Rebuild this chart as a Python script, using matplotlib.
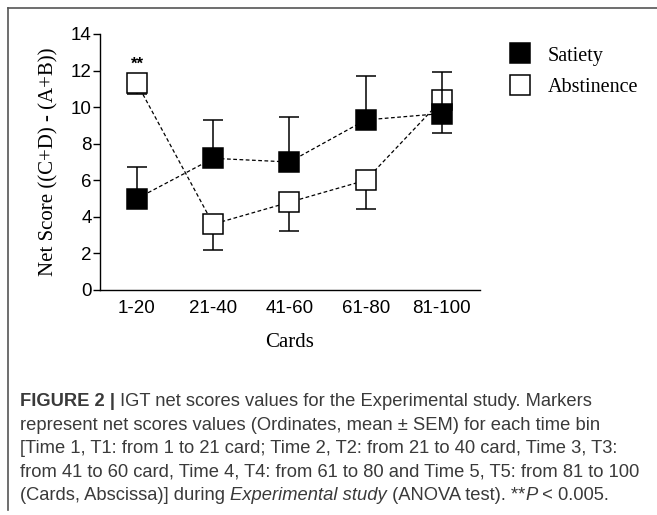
import numpy as np
import matplotlib.pyplot as plt
from matplotlib.lines import Line2D

# data
cards = ["1-20", "21-40", "41-60", "61-80", "81-100"]
satiety = [5.0, 7.2, 7.0, 9.3, 9.65]
satiety_sem = [1.75, 2.1, 2.45, 2.4, 2.25]
abstinence = [11.3, 3.6, 4.8, 6.0, 10.4]
abstinence_sem = [0.6, 1.4, 1.6, 1.55, 1.8]

serif = "Liberation Serif"
sans = "Liberation Sans"

fig = plt.figure(figsize=(6.57, 5.15), dpi=100)
ax = fig.add_axes([0.1522, 0.4369, 0.5784, 0.4971])

x = np.arange(len(cards))
zero = np.zeros(len(cards))

# dashed connecting lines
ax.plot(x, satiety, color="black", ls=(0, (3, 2)), lw=0.9, zorder=1)
ax.plot(x, abstinence, color="black", ls=(0, (3, 2)), lw=0.9, zorder=1)

# abstinence: error bars down, drawn under its open markers
ax.errorbar(x, abstinence, yerr=[abstinence_sem, zero], fmt="none", ecolor="black",
            elinewidth=1.1, capsize=7.5, capthick=1.1, zorder=2)
ax.plot(x, abstinence, ls="none", marker="s", ms=15, mfc="white", mec="black",
        mew=1.1, zorder=3)

# satiety: error bars up, over the open markers, under the filled ones
ax.errorbar(x, satiety, yerr=[zero, satiety_sem], fmt="none", ecolor="black",
            elinewidth=1.1, capsize=7.5, capthick=1.1, zorder=4)
ax.plot(x, satiety, ls="none", marker="s", ms=15, mfc="black", mec="black",
        mew=1.1, zorder=5)

ax.text(0, 12.35, "**", ha="center", va="center", fontsize=12, fontweight="bold",
        family=sans)

ax.set_xlim(-0.485, 4.5)
ax.set_ylim(0, 14)
ax.set_yticks(range(0, 15, 2))
ax.set_xticks(x)
ax.set_xticklabels(cards)
ax.spines["top"].set_visible(False)
ax.spines["right"].set_visible(False)
ax.spines["left"].set_linewidth(1.0)
ax.spines["bottom"].set_linewidth(1.0)
ax.tick_params(axis="y", length=5, width=1, pad=1, labelsize=13.5)
ax.tick_params(axis="x", length=0, pad=7, labelsize=13.5)
for lab in ax.get_xticklabels() + ax.get_yticklabels():
    lab.set_family(sans)

ax.set_ylabel("Net Score ((C+D) - (A+B))", family=serif, fontsize=15, labelpad=9)
ax.set_xlabel("Cards", family=serif, fontsize=15, labelpad=12)

handles = [
    Line2D([], [], ls="none", marker="s", ms=15, mfc="black", mec="black", mew=1.1),
    Line2D([], [], ls="none", marker="s", ms=15, mfc="white", mec="black", mew=1.1),
]
fig.legend(handles, ["Satiety", "Abstinence"], loc="upper left",
           bbox_to_anchor=(0.745, 0.945), frameon=False,
           prop={"family": serif, "size": 14.5}, handlelength=1.2,
           handletextpad=0.8, labelspacing=0.6)

# frame lines of the figure panel
fig.add_artist(Line2D([8 / 657, 1], [1 - 8 / 515, 1 - 8 / 515], color="#555555", lw=1.2))
fig.add_artist(Line2D([8 / 657, 8 / 657], [1 - 8 / 515, 1 - 510 / 515], color="#555555", lw=1.2))

# caption, written piece by piece so that bold and italic parts sit inline
cap_color = "#3a3a3a"
cap_size = 13.2
lines = [
    [("FIGURE 2 | ", "bold", "normal"),
     ("IGT net scores values for the Experimental study. Markers", "normal", "normal")],
    [("represent net scores values (Ordinates, mean \u00b1 SEM) for each time bin", "normal", "normal")],
    [("[Time 1, T1: from 1 to 21 card; Time 2, T2: from 21 to 40 card, Time 3, T3:", "normal", "normal")],
    [("from 41 to 60 card, Time 4, T4: from 61 to 80 and Time 5, T5: from 81 to 100", "normal", "normal")],
    [("(Cards, Abscissa)] during ", "normal", "normal"),
     ("Experimental study", "normal", "italic"),
     (" (ANOVA test). **", "normal", "normal"),
     ("P", "normal", "italic"),
     (" < 0.005.", "normal", "normal")],
]
renderer = fig.canvas.get_renderer()
y0 = 406
for i, parts in enumerate(lines):
    xpos = 20
    ypix = y0 + i * 23.6
    for txt, weight, style in parts:
        t = fig.text(xpos / 657, 1 - ypix / 515, txt, family=sans, fontsize=cap_size,
                     fontweight=weight, fontstyle=style, color=cap_color,
                     va="baseline", ha="left")
        xpos += t.get_window_extent(renderer).width

fig.savefig("out.png", dpi=100)
